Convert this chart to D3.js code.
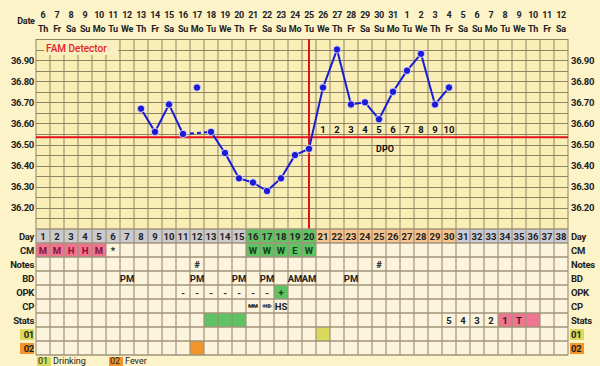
<!DOCTYPE html>
<html><head><meta charset="utf-8">
<script src="https://cdn.jsdelivr.net/npm/d3@7"></script>
<style>
html,body{margin:0;padding:0;background:#fcf3c9;overflow:hidden}
svg{display:block}
text{font-family:Roboto,"Liberation Sans",sans-serif}
</style></head>
<body><svg id="c" width="600" height="366"></svg>
<script>
const days = [1,2,3,4,5,6,7,8,9,10,11,12,13,14,15,16,17,18,19,20,21,22,23,24,25,26,27,28,29,30,31,32,33,34,35,36,37,38];
const dates = [6,7,8,9,10,11,12,13,14,15,16,17,18,19,20,21,22,23,24,25,26,27,28,29,30,31,1,2,3,4,5,6,7,8,9,10,11,12];
const weekdays = ["Th","Fr","Sa","Su","Mo","Tu","We","Th","Fr","Sa","Su","Mo","Tu","We","Th","Fr","Sa","Su","Mo","Tu","We","Th","Fr","Sa","Su","Mo","Tu","We","Th","Fr","Sa","Su","Mo","Tu","We","Th","Fr","Sa"];
const tempTicks = [36.20,36.30,36.40,36.50,36.60,36.70,36.80,36.90];
// temperatures per day (null = none)
const temps = [null,null,null,null,null,null,null,36.67,36.56,36.69,36.55,36.77,36.56,36.46,36.34,36.32,36.28,36.34,36.45,36.48,36.77,36.95,36.69,36.70,36.62,36.75,36.85,36.93,36.69,36.77,null,null,null,null,null,null,null,null];
const discardedDays = [12];
const coverline = 36.535;
const ovulationDay = 20;
const dpoDays = [21,22,23,24,25,26,27,28,29,30];
const dpoLabels = ["1","2","3","4","5","6","7","8","9","10"];
const phases = ["pre","pre","pre","pre","pre","pre","pre","pre","pre","pre","pre","pre","pre","pre","pre","fert","fert","fert","fert","fert","lut","lut","lut","lut","lut","lut","lut","lut","lut","lut","fut","fut","fut","fut","fut","fut","fut","fut"];
const cmDays = [1,2,3,4,5,6,16,17,18,19,20];
const cmVals = ["M","M","H","H","M","*","W","W","W","E","W"];
const notesDays = [12,25];
const notesVals = ["#","#"];
const bdDays = [7,12,15,17,19,20,23];
const bdVals = ["PM","PM","PM","PM","AM","AM","PM"];
const opkDays = [11,12,13,14,15,16,17,18];
const opkVals = ["-","-","-","-","-","-","-","+"];
const cpDays = [16,17,18];
const cpVals = ["MM","HS","HS"];
const statsGreenDays = [13,14,15];
const statsDays = [30,31,32,33,34,35];
const statsVals = ["5","4","3","2","1","T"];
const statsPinkDays = [34,35,36];
const drinkingDays = [21];
const feverDays = [12];
const rowLabels = ["Day","CM","Notes","BD","OPK","CP","Stats","01","02"];
const legendItems = [{code:"01",label:"Drinking"},{code:"02",label:"Fever"}];

const svg = d3.select("#c");
const X0 = 36, X1 = 568, TT = 39, TB = 229, RH = 14;
const x = d3.scaleBand().domain(days).range([X0, X1]);
const cx = d => x(d) + x.bandwidth()/2;
const y = d3.scaleLinear().domain([36.10, 37.00]).range([TB, TT]);
const rowY = d3.scaleBand().domain(rowLabels).range([TB, TB + RH*rowLabels.length]);
const rcy = r => rowY(r) + RH/2;

const cYellow = "#d9d95c", cOrange = "#f0952b", cPink = "#ef7490", cGreen = "#5fc263";

// temperature area
svg.append("rect").attr("x",X0).attr("y",TT).attr("width",X1-X0).attr("height",TB-TT).attr("fill","#f9efb6");
const gridC = "#8f8364";
const hLines = d3.range(0,19).map(i => 36.10 + i*0.05);
svg.append("g").selectAll("line").data(hLines).join("line")
  .attr("x1",X0).attr("x2",X1).attr("y1",d=>Math.round(y(d))+0.5).attr("y2",d=>Math.round(y(d))+0.5)
  .attr("stroke",gridC).attr("stroke-width",1);
svg.append("g").selectAll("line").data(days.concat([39])).join("line")
  .attr("x1",d=>d===39?X1:x(d)).attr("x2",d=>d===39?X1:x(d)).attr("y1",TT).attr("y2",TB)
  .attr("stroke",gridC).attr("stroke-width",1);

// FAM Detector box
svg.append("rect").attr("x",44).attr("y",40).attr("width",74).attr("height",15).attr("fill","#f9efc0");
svg.append("text").attr("x",46).attr("y",52).attr("fill","#e3262a").attr("font-size",10).attr("font-weight",500).text("FAM Detector");

// axes labels (temperature)
const axL = d3.axisLeft(y).tickValues(tempTicks).tickFormat(d3.format(".2f")).tickSize(0).tickPadding(2);
const axR = d3.axisRight(y).tickValues(tempTicks).tickFormat(d3.format(".2f")).tickSize(0).tickPadding(3);
function styleAx(g){ g.select(".domain").remove(); g.selectAll("text").attr("font-size",9.5).attr("font-weight","bold").attr("fill","#222").attr("font-family","Roboto,sans-serif").attr("letter-spacing",-0.3); }
svg.append("g").attr("transform",`translate(${X0},0)`).call(axL).call(styleAx);
svg.append("g").attr("transform",`translate(${X1},0)`).call(axR).call(styleAx);

// header
const hdr = svg.append("g").attr("font-size",9).attr("font-weight","bold").attr("fill","#222").attr("text-anchor","middle").attr("letter-spacing",-0.3);
hdr.selectAll(".dt").data(days).join("text").attr("x",cx).attr("y",18).text((d,i)=>dates[i]);
hdr.selectAll(".wd").data(days).join("text").attr("x",cx).attr("y",32).text((d,i)=>weekdays[i]);
svg.append("text").attr("x",26).attr("y",24).attr("text-anchor","middle").attr("font-size",9).attr("font-weight","bold").attr("fill","#222").attr("letter-spacing",-0.3).text("Date");

// coverline & ovulation line
svg.append("line").attr("x1",X0).attr("x2",X1).attr("y1",y(coverline)).attr("y2",y(coverline)).attr("stroke","#e3141c").attr("stroke-width",2);
svg.append("line").attr("x1",cx(ovulationDay)).attr("x2",cx(ovulationDay)).attr("y1",TT).attr("y2",TB).attr("stroke","#e3141c").attr("stroke-width",2);

// DPO labels
svg.append("g").attr("font-size",9.5).attr("font-weight","bold").attr("fill","#111").attr("text-anchor","middle")
  .selectAll("text").data(dpoDays).join("text").attr("x",cx).attr("y",133).text((d,i)=>dpoLabels[i]);
svg.append("text").attr("x",cx(25)+6).attr("y",152).attr("text-anchor","middle").attr("font-size",9).attr("font-weight","bold").attr("fill","#111").text("DPO");

// temperature line
const pts = days.map((d,i)=>({d, t:temps[i]})).filter(p=>p.t!==null);
const used = pts.filter(p=>!discardedDays.includes(p.d));
const blue = "#1b1bd6";
const line = d3.line().x(p=>cx(p.d)).y(p=>y(p.t));
for (let i=1;i<used.length;i++){
  const a=used[i-1], b=used[i];
  svg.append("path").attr("d",line([a,b])).attr("fill","none").attr("stroke",blue).attr("stroke-width",2)
    .attr("stroke-dasharray", b.d-a.d>1 ? "4,3" : null);
}
svg.append("g").selectAll("circle").data(pts).join("circle")
  .attr("cx",p=>cx(p.d)).attr("cy",p=>y(p.t)).attr("r",3.7).attr("fill",blue).attr("stroke","#f4f0ff").attr("stroke-width",0.8);

// table
const tbl = svg.append("g");
tbl.append("rect").attr("x",X0).attr("y",TB).attr("width",X1-X0).attr("height",RH*rowLabels.length).attr("fill","#fcf4dd");
const phaseColor = {pre:"#cbcbcf",fert:cGreen,lut:"#f6c48c",fut:"#c9ccd8"};
tbl.selectAll(".dayc").data(days).join("rect").attr("x",d=>x(d)).attr("y",rowY("Day")).attr("width",x.bandwidth()).attr("height",RH).attr("fill",(d,i)=>phaseColor[phases[i]]);
function fillCells(list,row,color){ tbl.append("g").selectAll("rect").data(list).join("rect").attr("x",d=>x(d)).attr("y",rowY(row)).attr("width",x.bandwidth()).attr("height",RH).attr("fill",color); }
fillCells(cmDays.filter(d=>d<=5),"CM",cPink);
fillCells(cmDays.filter(d=>d>=16),"CM",cGreen);
fillCells([18],"OPK",cGreen);
fillCells(statsGreenDays,"Stats",cGreen);
fillCells(statsPinkDays,"Stats",cPink);
fillCells(drinkingDays,"01",cYellow);
fillCells(feverDays,"02",cOrange);

const tgc = "#a0937a";
tbl.append("g").selectAll("line").data(d3.range(0,rowLabels.length+1)).join("line")
  .attr("x1",X0).attr("x2",X1).attr("y1",i=>TB+i*RH).attr("y2",i=>TB+i*RH).attr("stroke",tgc).attr("stroke-width",1.5);
tbl.append("g").selectAll("line").data(days.concat([39])).join("line")
  .attr("x1",d=>d===39?X1:x(d)).attr("x2",d=>d===39?X1:x(d)).attr("y1",TB).attr("y2",TB+RH*rowLabels.length).attr("stroke",tgc).attr("stroke-width",1.2);

const tt = tbl.append("g").attr("font-size",9.5).attr("font-weight","bold").attr("text-anchor","middle");
tt.selectAll(".dn").data(days).join("text").attr("x",cx).attr("y",rcy("Day")+3.5).attr("fill","#222").text(d=>d);
function rowText(list,vals,row,color,size){ tt.append("g").selectAll("text").data(list).join("text").attr("x",cx).attr("y",rcy(row)+3.5).attr("fill",color).attr("font-size",size||9.5).text((d,i)=>vals[i]); }
rowText(cmDays,cmVals,"CM",d=>d<=5?"#8a1030":(d>=16?"#123d12":"#222"));
rowText(notesDays,notesVals,"Notes","#222");
rowText(bdDays,bdVals,"BD","#222");
rowText(opkDays,opkVals,"OPK",d=>d===18?"#123d12":"#222");
rowText(statsDays,statsVals,"Stats","#222");
// CP
tt.append("g").selectAll("text").data(cpDays).join("text").attr("x",cx).attr("y",(d,i)=>rcy("CP")+(i<2?2:3.5))
  .attr("font-size",(d,i)=>i<2?5.5:9.5).attr("fill","#222").text((d,i)=>cpVals[i]);
tt.append("g").selectAll("line").data(cpDays.slice(0,2)).join("line").attr("x1",d=>cx(d)-5).attr("x2",d=>cx(d)+5)
  .attr("y1",rcy("CP")).attr("y2",rcy("CP")).attr("stroke","#222").attr("stroke-width",0.8);

// row labels left & right
const rl = svg.append("g").attr("font-size",9.5).attr("font-weight","bold").attr("fill","#222");
rowLabels.forEach(r=>{
  const bg = r==="01"?cYellow:(r==="02"?cOrange:null);
  if(bg){
    svg.insert("rect","g").attr("x",20).attr("y",rowY(r)+2).attr("width",14).attr("height",RH-3).attr("fill",bg);
    svg.insert("rect","g").attr("x",570).attr("y",rowY(r)+2).attr("width",14).attr("height",RH-3).attr("fill",bg);
  }
  rl.append("text").attr("x",34).attr("y",rcy(r)+3.5).attr("text-anchor","end").attr("letter-spacing",-0.3).text(r);
  rl.append("text").attr("x",571).attr("y",rcy(r)+3.5).attr("text-anchor","start").attr("letter-spacing",-0.3).text(r);
});

// legend
const lg = svg.append("g");
const legX = [37, 109];
legendItems.forEach((it,i)=>{
  lg.append("rect").attr("x",legX[i]).attr("y",357).attr("width",14).attr("height",9).attr("fill",i===0?cYellow:cOrange);
  lg.append("text").attr("x",legX[i]+1).attr("y",364).attr("font-size",9).attr("font-family","DejaVu Sans").attr("fill","#222").text(it.code);
  lg.append("text").attr("x",legX[i]+16).attr("y",364).attr("font-size",9).attr("font-family","DejaVu Sans").attr("fill","#222").text(it.label);
});
</script></body></html>
